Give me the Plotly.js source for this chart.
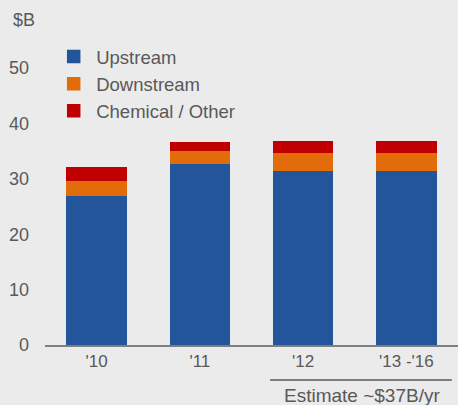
<!DOCTYPE html>
<html>
<head>
<meta charset="utf-8">
<script src="https://cdn.plot.ly/plotly-3.0.1.min.js"></script>
<style>html,body{margin:0;padding:0;background:#ebebeb;}#chart{width:458px;height:405px;}</style>
</head>
<body>
<div id="chart"></div>
<script>
const categories = ["'10", "'11", "'12", "'13 -'16"];
const upstream = [27.0, 32.8, 31.6, 31.6];
const downstream = [2.7, 2.3, 3.2, 3.2];
const chemicalOther = [2.3, 1.4, 1.9, 1.9];
const seriesNames = ["Upstream", "Downstream", "Chemical / Other"];
const yTicks = [0, 10, 20, 30, 40, 50];
const unitLabel = "$B";
const estimateLabel = "Estimate ~$37B/yr";

const colors = ["#23559b", "#e26b0a", "#c00000"];
const series = [upstream, downstream, chemicalOther];
const font = "'Liberation Sans', Arial, sans-serif";
const textColor = "#595959";

const traces = series.map((vals, i) => ({
  type: "bar",
  name: seriesNames[i],
  x: categories,
  y: vals,
  marker: {color: colors[i], line: {color: colors[i], width: 1.5}},
  hoverinfo: "skip"
}));

const layout = {
  width: 458, height: 405,
  margin: {l: 45, r: 0, t: 68, b: 60},
  paper_bgcolor: "#ebebeb",
  plot_bgcolor: "#ebebeb",
  barmode: "stack",
  bargap: 0.43,
  font: {family: font, color: textColor, size: 17},
  showlegend: true,
  legend: {
    x: 0.015, xanchor: "left", y: 1.108, yanchor: "top",
    traceorder: "normal", bgcolor: "rgba(0,0,0,0)",
    font: {family: font, size: 18.5, color: textColor},
    itemwidth: 35,
    tracegroupgap: 0
  },
  xaxis: {
    type: "category",
    showline: true, linecolor: "#7f7f7f", linewidth: 1.5,
    showgrid: false, zeroline: false, ticks: "",
    tickfont: {family: font, size: 17, color: textColor}
  },
  yaxis: {
    range: [0, 50], tickvals: yTicks, ticktext: yTicks.map(String),
    showgrid: false, zeroline: false, showline: false, ticks: "",
    ticklabelstandoff: 15,
    tickfont: {family: font, size: 18, color: textColor}
  },
  shapes: [{
    type: "line", xref: "paper", yref: "paper",
    x0: 0.545, x1: 0.985, y0: -0.126, y1: -0.126,
    line: {color: "#595959", width: 1.5}
  }],
  annotations: [
    {text: estimateLabel, xref: "paper", yref: "paper", x: 0.7676, y: -0.184,
     xanchor: "center", yanchor: "middle", showarrow: false,
     font: {family: font, size: 19, color: textColor}},
    {text: unitLabel, xref: "paper", yref: "paper", x: -0.052, y: 1.173,
     xanchor: "center", yanchor: "middle", showarrow: false,
     font: {family: font, size: 18, color: textColor}}
  ]
};

Plotly.newPlot("chart", traces, layout, {displayModeBar: false, staticPlot: true});
</script>
</body>
</html>
